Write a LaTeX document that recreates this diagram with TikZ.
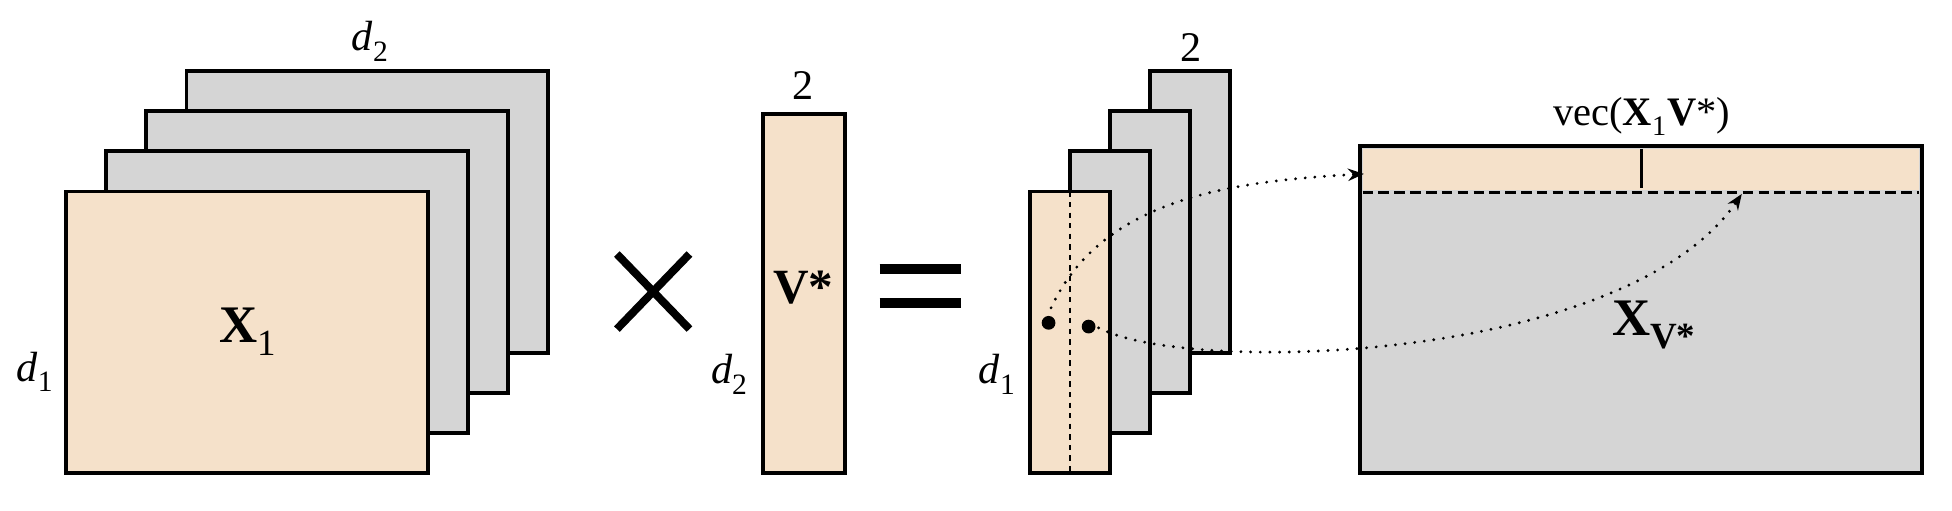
\documentclass[tikz,border=0pt]{standalone}
\usepackage{fontspec}
\setmainfont{Liberation Serif}
\usepackage{unicode-math}
\setmathfont{Latin Modern Math}
\setmathrm{Liberation Serif}
\setmathfontface\mathit{Liberation Serif Italic}
\setmathfontface\mathbf{Liberation Serif Bold}
\usetikzlibrary{arrows.meta}
\definecolor{beige}{RGB}{245,225,202}
\definecolor{gry}{RGB}{213,213,213}
\begin{document}
\begin{tikzpicture}[x=0.025cm,y=-0.025cm,
  mat/.style={draw=black,line width=2.2pt},
  lbl/.style={font=\fontsize{24}{28}\selectfont},
  dotarrow/.style={line width=1.8pt,line cap=round,dash pattern=on 0pt off 5.5pt,-{Stealth[length=9pt,width=7pt,line cap=butt]}}]
\useasboundingbox (0,0) rectangle (1560,408);
% left stack
\foreach \i/\c in {3/gry,2/gry,1/gry,0/beige}{
  \draw[mat,fill=\c] ({53+32*\i},{153-32*\i}) rectangle ({342+32*\i},{378-32*\i});
}
\node[font=\fontsize{30}{34}\selectfont] (x1) at (198,265) {$\mathbf{X}_{\mathrm{1}}$};
\node[lbl] (d2a) at (296,33) {$\mathit{d}_{\mathrm{2}}$};
\node[lbl] (d1a) at (28,297) {$\mathit{d}_{\mathrm{1}}$};
% times
\draw[line width=4.5pt] (493,203) -- (551,263) (551,203) -- (493,263);
% V*
\draw[mat,fill=beige] (610,91) rectangle (675,378);
\node[lbl] (two1) at (642,68) {2};
\node[font=\fontsize{28}{32}\selectfont\bfseries] (vs) at (642,230) {V*};
\node[lbl] (d2b) at (583,299) {$\mathit{d}_{\mathrm{2}}$};
% equals
\draw[line width=6pt] (703,215) -- (768,215) (703,242) -- (768,242);
% middle stack
\foreach \i/\c in {3/gry,2/gry,1/gry,0/beige}{
  \draw[mat,fill=\c] ({823+32*\i},{153-32*\i}) rectangle ({887+32*\i},{378-32*\i});
}
\draw[dashed,line width=1.5pt] (855,153) -- (855,378);
\node[lbl] (two2) at (952,38) {2};
\node[lbl] (d1b) at (797,299) {$\mathit{d}_{\mathrm{1}}$};
\fill (838,258) circle (5.5);
\fill (870,261) circle (5.5);
\coordinate (p1) at (840,246);
\coordinate (p2) at (878,262);
% big matrix
\draw[mat,fill=gry] (1087,117) rectangle (1536,378);
\fill[beige] (1089,119) rectangle (1534,152);
\draw[line width=1.6pt] (1312,119) -- (1312,150);
\draw[line width=2pt,dash pattern=on 6pt off 3pt] (1089,154) -- (1534,154);
\node[font=\fontsize{23}{27}\selectfont] (vec) at (1312,93) {vec($\mathbf{X}_{\mathrm{1}}\mathbf{V}$*)};
\node[font=\fontsize{30}{34}\selectfont] (xv) at (1322,260) {$\mathbf{X}_{\mathbf{V}\textbf{*}}$};
\coordinate (q1) at (1090,139);
\coordinate (q2) at (1392,155);
\draw[dotarrow] (p1) .. controls (880,160) and (980,145) .. (q1);
\draw[dotarrow] (p2) .. controls (950,300) and (1300,290) .. (q2);
\end{tikzpicture}
\end{document}
